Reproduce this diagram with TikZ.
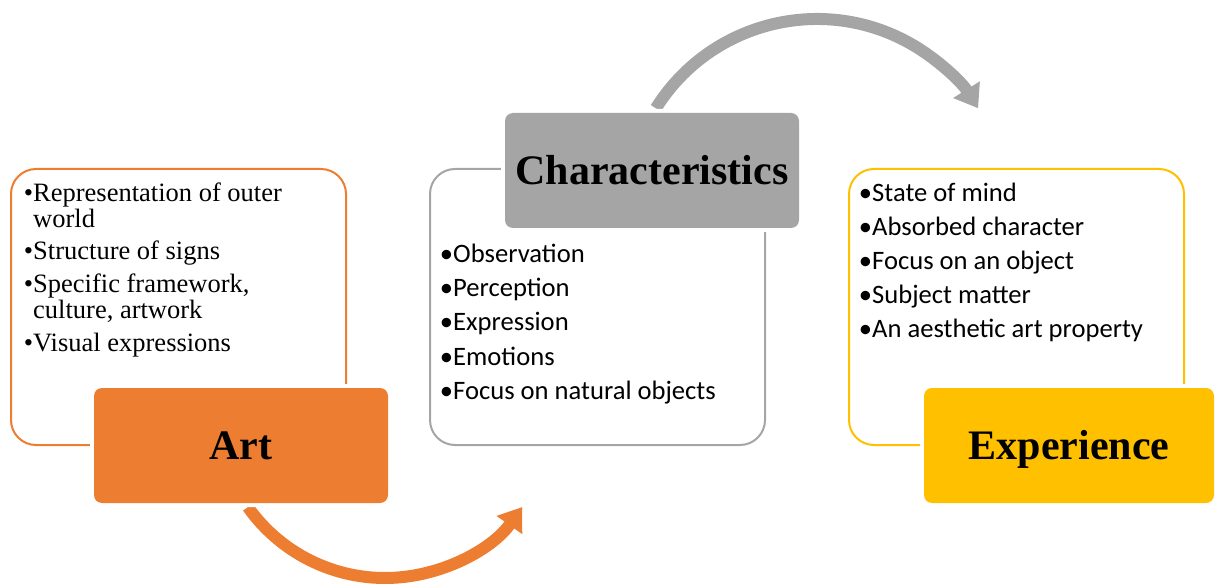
\documentclass[tikz,border=0pt]{standalone}
\usepackage{fontspec}
\setmainfont{Liberation Serif}
\newfontfamily\calfont{Carlito}
\usetikzlibrary{arrows.meta}
\definecolor{artorange}{HTML}{ED7D31}
\definecolor{chargray}{HTML}{A5A5A5}
\definecolor{expgold}{HTML}{FFC000}
\begin{document}
\begin{tikzpicture}[x=1pt,y=1pt,
  frame/.style={draw, rounded corners=25pt, line width=2pt, minimum width=335pt,
    minimum height=276pt, anchor=south west, inner sep=0pt},
  titlebox/.style={rounded corners=8pt, minimum width=294pt, minimum height=115pt,
    inner sep=0pt, font=\fontsize{42}{46}\selectfont\bfseries, text height=28pt,
    text depth=0pt, preaction={draw=white, line width=8pt}},
  serifitem/.style={anchor=base west, inner sep=0pt, font=\fontsize{26.5}{30}\selectfont},
  sansitem/.style={anchor=base west, inner sep=0pt, font=\calfont\fontsize{26.6}{30}\selectfont},
  flow/.style={line width=12pt, -{Triangle[width=30pt,length=22pt]}}
]
\useasboundingbox (0,0) rectangle (1215,587);

% frames
\node[frame, draw=artorange] (artframe) at (10,141) {};
\node[frame, draw=chargray] (charframe) at (429,141) {};
\node[frame, draw=expgold] (expframe) at (848,141) {};

% arcs
\coordinate (oc) at (385,177);
\coordinate (gc) at (817,378);
\draw[flow, artorange] ([shift={(215.3:168)}]oc) arc[start angle=215.3, end angle=324.7, radius=168];
\draw[flow, chargray] ([shift={(148:190)}]gc) arc[start angle=148, end angle=32, radius=190];

% title boxes
\node[titlebox, fill=artorange] (art) at (241,141.5) {Art};
\node[titlebox, fill=chargray] (char) at (652,416.5) {Characteristics};
\node[titlebox, fill=expgold, minimum width=290pt] (exp) at (1069,141.5) {Experience};

% art items
\node[serifitem] (a1) at (33,385) {\llap{•}Representation of outer};
\node[serifitem] (a1b) at (33,359) {world};
\node[serifitem] (a2) at (33,327) {\llap{•}Structure of signs};
\node[serifitem] (a3) at (33,294) {\llap{•}Specific framework,};
\node[serifitem] (a3b) at (33,268) {culture, artwork};
\node[serifitem] (a4) at (33,236) {\llap{•}Visual expressions};

% characteristics items
\node[sansitem] (c1) at (453,324) {\llap{•}Observation};
\node[sansitem] (c2) at (453,290) {\llap{•}Perception};
\node[sansitem] (c3) at (453,256) {\llap{•}Expression};
\node[sansitem] (c4) at (453,222) {\llap{•}Emotions};
\node[sansitem] (c5) at (453,188) {\llap{•}Focus on natural objects};

% experience items
\node[sansitem] (e1) at (872,385) {\llap{•}State of mind};
\node[sansitem] (e2) at (872,351) {\llap{•}Absorbed character};
\node[sansitem] (e3) at (872,317) {\llap{•}Focus on an object};
\node[sansitem] (e4) at (872,283) {\llap{•}Subject matter};
\node[sansitem] (e5) at (872,249) {\llap{•}An aesthetic art property};
\end{tikzpicture}
\end{document}
